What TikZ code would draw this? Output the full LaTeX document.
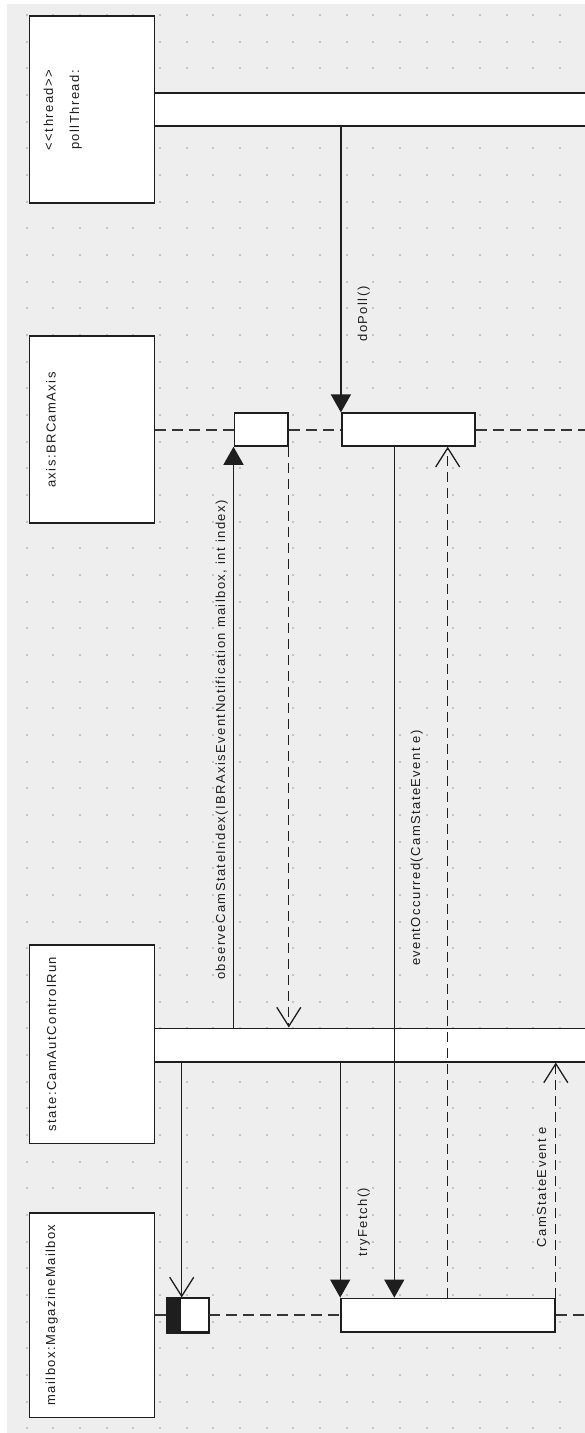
\documentclass[tikz,border=0pt]{standalone}
\usepackage{fontspec}
\newfontfamily\umlfont{Liberation Sans}[LetterSpace=11]
\usetikzlibrary{arrows.meta}
\definecolor{canvas}{HTML}{EEEEEE}
\definecolor{gridpt}{HTML}{C4C4C4}
\definecolor{ink}{HTML}{1E1E1E}

\begin{document}
\begin{tikzpicture}[x=1pt,y=-1pt,
  headbox/.style={draw=ink, line width=1.6pt, fill=white, inner sep=0pt, minimum width=125pt},
  actbar/.style={draw=ink, line width=1.6pt, fill=white, inner sep=0pt},
  lifeline/.style={draw=ink!90, line width=1.9pt, dash pattern=on 11pt off 6pt},
  call/.style={draw=ink, line width=1.3pt, -{Triangle[width=20pt,length=18pt]}},
  async/.style={draw=ink, line width=1.3pt, -{Straight Barb[width=24pt,length=19pt]}},
  reply/.style={async, dash pattern=on 10pt off 6pt},
  lbl/.style={font=\umlfont\fontsize{13}{15}\selectfont, text=ink, rotate=90, anchor=base, inner sep=0pt},
]
\useasboundingbox (0,0) rectangle (585,1433);
\clip (0,0) rectangle (585,1433);

% canvas and dot grid
\fill[white] (0,0) rectangle (585,1433);
\fill[canvas] (7,4) rectangle (585,1433);
\foreach \i in {1,...,21}
  \foreach \j in {0,...,53}
    \fill[gridpt] ({26.667*\i-1},{15+26.667*\j-1}) rectangle ++(2,2);

% activation bars
\node[actbar, minimum width=440.7pt, minimum height=32.7pt] (bPoll) at (374.65,109.6) {};
\node[actbar, minimum width=53.7pt, minimum height=32.7pt] (bAxis1) at (261.15,429.6) {};
\node[actbar, minimum width=133.3pt, minimum height=32.7pt] (bAxis2) at (408.35,429.6) {};
\node[actbar, minimum width=440.7pt, minimum height=33.4pt] (bState) at (374.65,1045) {};
\node[actbar, minimum width=41pt, minimum height=33.7pt] (bMail1) at (187.8,1315.1) {};
\node[actbar, minimum width=214pt, minimum height=33.4pt] (bMail2) at (448,1315.1) {};
\fill[ink] (bMail1.north west) rectangle ([xshift=14.4pt]bMail1.south west);
\draw[ink, line width=1.6pt] (bMail1.north west) rectangle (bMail1.south east);

% lifeline heads
\node[headbox, minimum height=186.7pt] (hPoll) at (91.8,109.6) {};
\node[headbox, minimum height=186.7pt] (hAxis) at (91.8,429.6) {};
\node[headbox, minimum height=198.3pt] (hState) at (91.8,1044.2) {};
\node[headbox, minimum height=204.6pt] (hMail) at (91.8,1315.1) {};

% dashed lifelines
\draw[lifeline] (hAxis.east) -- (bAxis1.west);
\draw[lifeline] (bAxis1.east) -- (bAxis2.west);
\draw[lifeline] (bAxis2.east) -- ++(130,0);
\draw[lifeline] (hMail.east) -- (bMail1.west);
\draw[lifeline] (bMail1.east) -- (bMail2.west);
\draw[lifeline] (bMail2.east) -- ++(60,0);

% message x positions
\coordinate (evx) at (394.3,0);
\coordinate (rtx) at (447.7,0);
\coordinate (asx) at (181.7,0);

% messages
\draw[call] (bPoll.south -| bAxis2.west) -- (bAxis2.north west);
\draw[call] (bState.north -| bAxis1.west) -- (bAxis1.south west);
\draw[reply] (bAxis1.south east) -- (bAxis1.south east |- bState.north);
\draw[call] (evx |- bAxis2.south) -- (evx |- bMail2.north);
\draw[reply] (rtx |- bMail2.north) -- (rtx |- bAxis2.south);
\draw[async] (asx |- bState.south) -- (asx |- bMail1.north);
\draw[call] (bState.south -| bMail2.west) -- (bMail2.north west);
\draw[reply] (bMail2.north east) -- (bMail2.north east |- bState.south);

% head texts
\node[lbl] (tPoll1) at (53,110) {<<thread>>};
\node[lbl] (tPoll2) at (79,110) {pollThread:};
\node[lbl] (tAxis) at (55.5,430) {axis:BRCamAxis};
\node[lbl] (tState) at (56,1044) {state:CamAutControlRun};
\node[lbl] (tMail) at (55,1315) {mailbox:MagazineMailbox};

% message labels
\node[lbl] (lPoll) at (367,314) {doPoll()};
\node[lbl] (lObserve) at (225,740) {observeCamStateIndex(IBRAxisEventNotification mailbox, int index)};
\node[lbl] (lEvent) at (420,848) {eventOccurred(CamStateEvent e)};
\node[lbl] (lFetch) at (367,1222) {tryFetch()};
\node[lbl] (lResult) at (546,1187) {CamStateEvent e};
\end{tikzpicture}
\end{document}
